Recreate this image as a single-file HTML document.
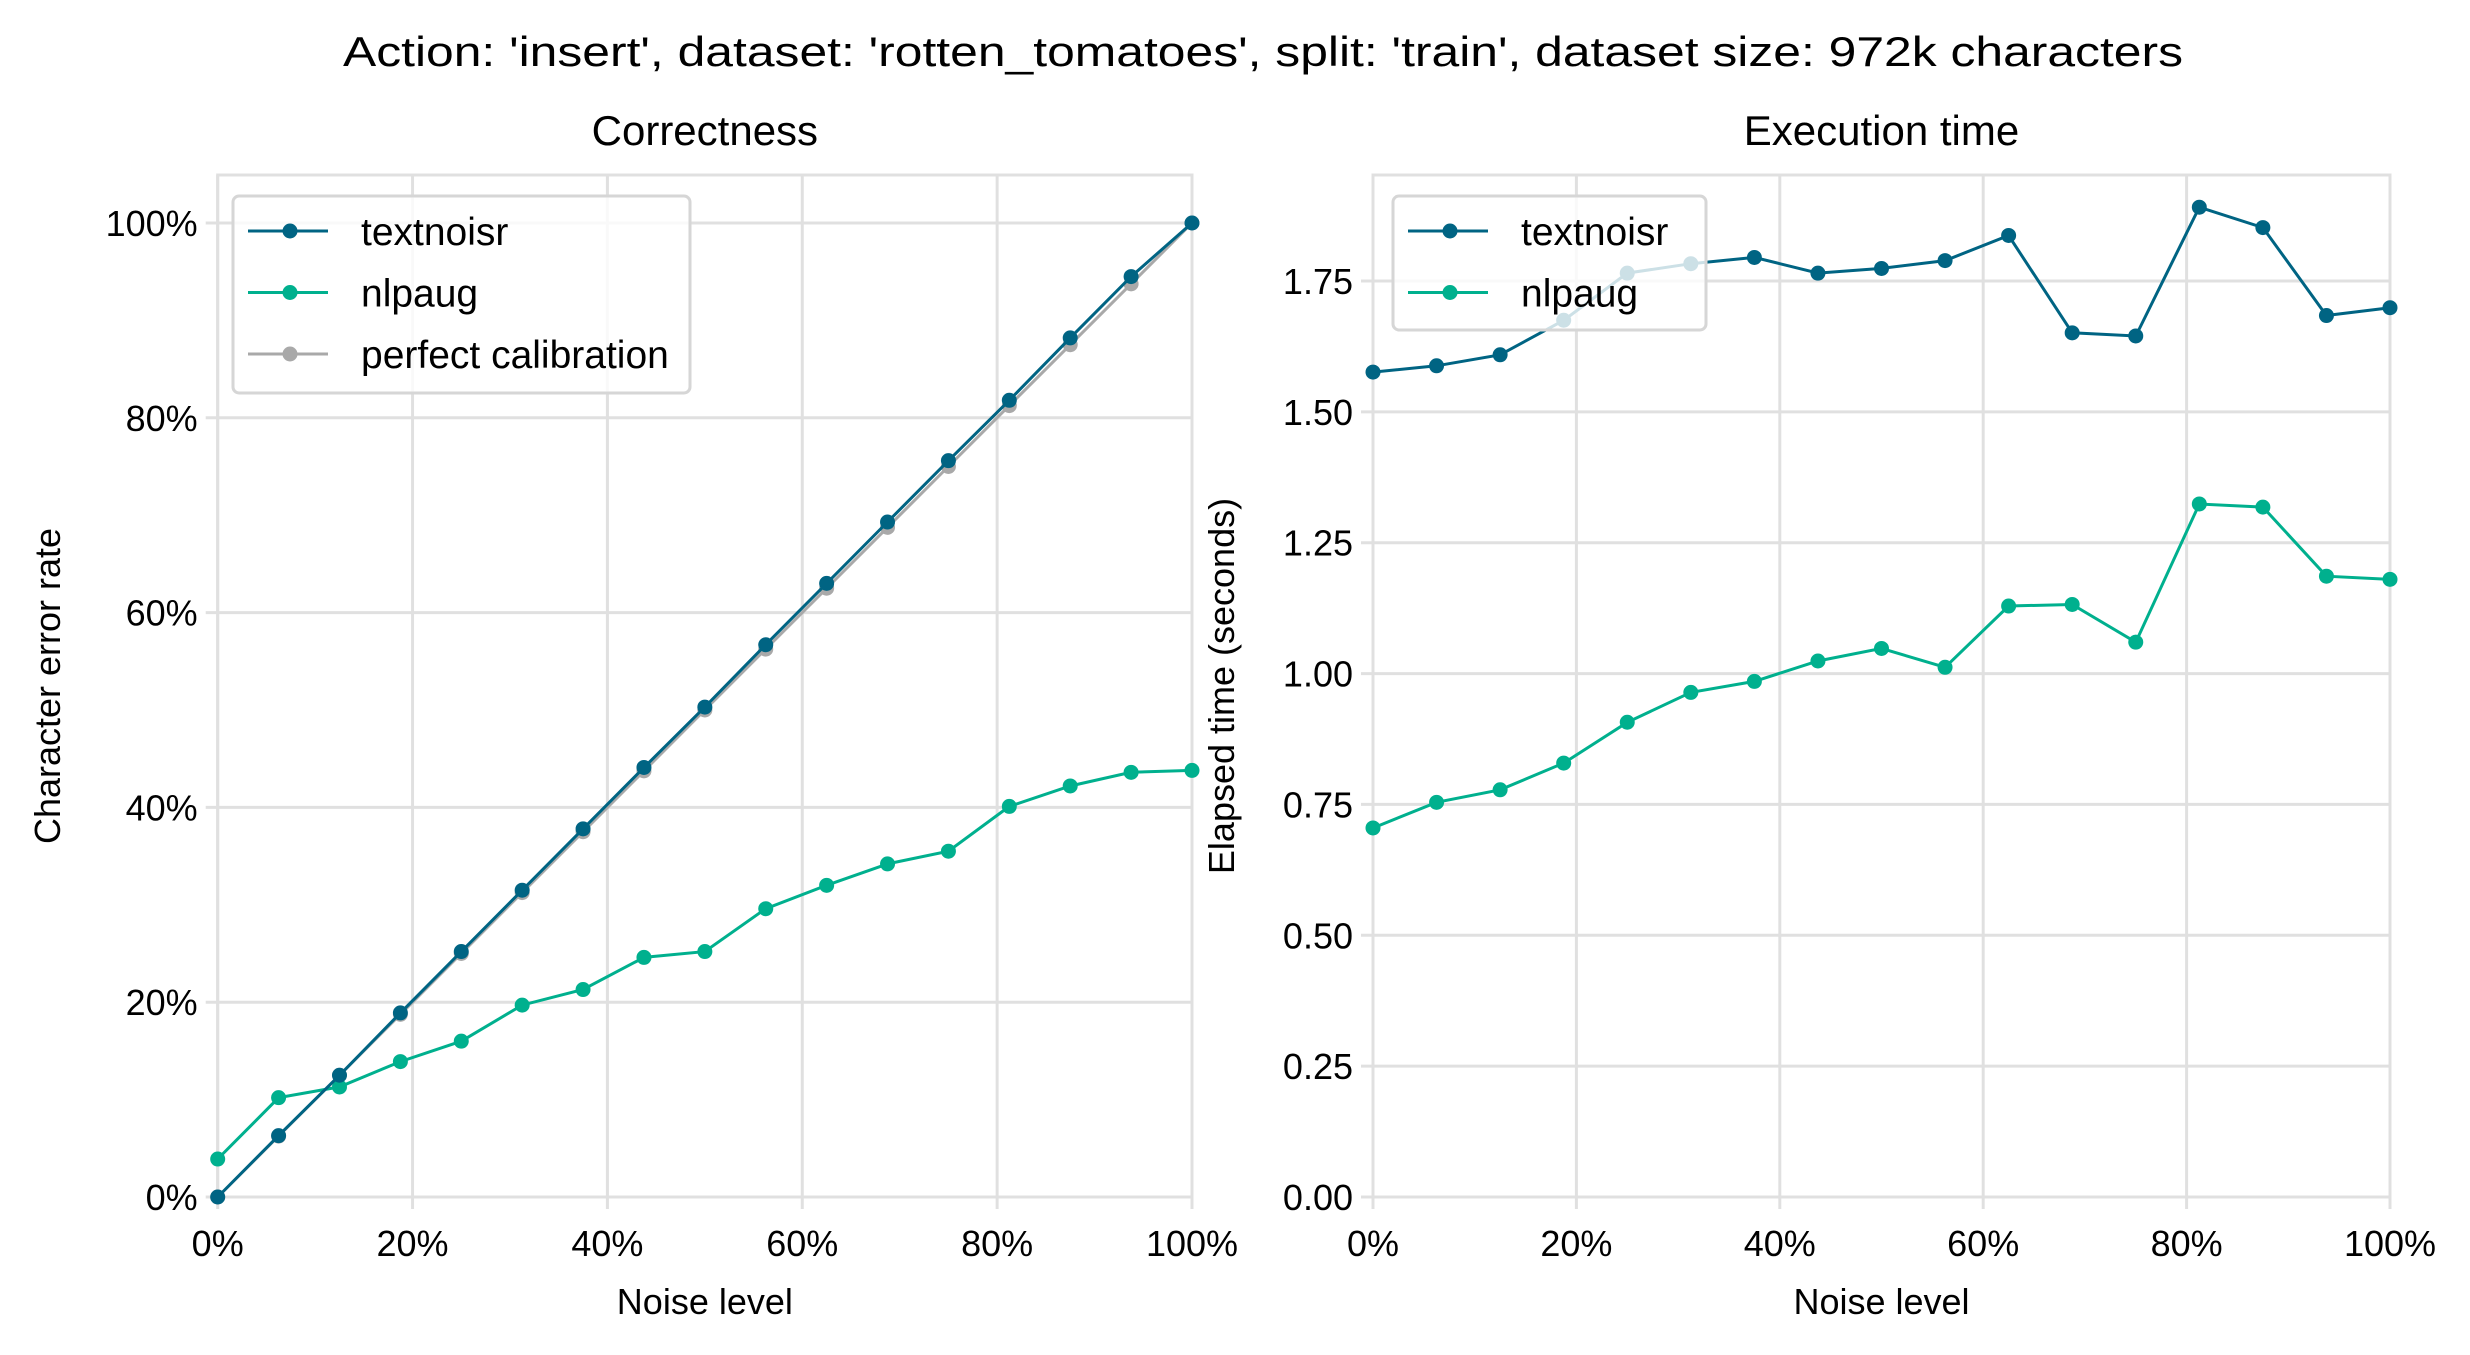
<!DOCTYPE html>
<html><head><meta charset="utf-8"><style>
html,body{margin:0;padding:0;background:#fff;}
svg{display:block;font-family:"Liberation Sans",sans-serif;}
</style></head><body>
<svg id="chart" width="2470" height="1355" viewBox="0 0 2470 1355" xmlns="http://www.w3.org/2000/svg">
<rect width="2470" height="1355" fill="#fff"/>
<text x="1263" y="66" font-size="42" text-anchor="middle" textLength="1840" lengthAdjust="spacingAndGlyphs">Action: 'insert', dataset: 'rotten_tomatoes', split: 'train', dataset size: 972k characters</text>
<g id="left"></g>
<g id="right"></g>
</svg>
<script>
const noiseLevels = [0,6.25,12.5,18.75,25,31.25,37.5,43.75,50,56.25,62.5,68.75,75,81.25,87.5,93.75,100];
const cerTextnoisr = [0,6.3,12.5,18.9,25.2,31.5,37.8,44.1,50.3,56.7,63.0,69.3,75.6,81.8,88.2,94.5,100];
const cerNlpaug = [3.9,10.2,11.3,13.9,16.0,19.7,21.3,24.6,25.2,29.6,32.0,34.2,35.5,40.1,42.2,43.6,43.8];
const cerPerfect = [0,6.25,12.5,18.75,25,31.25,37.5,43.75,50,56.25,62.5,68.75,75,81.25,87.5,93.75,100];
const timeTextnoisr = [1.576,1.588,1.609,1.675,1.765,1.783,1.795,1.765,1.774,1.789,1.837,1.651,1.645,1.891,1.852,1.684,1.699];
const timeNlpaug = [0.705,0.754,0.778,0.829,0.907,0.964,0.985,1.024,1.048,1.012,1.129,1.132,1.060,1.324,1.318,1.186,1.180];
const xTicks = [0,20,40,60,80,100];
const cerTicks = [0,20,40,60,80,100];
const timeTicks = [0,0.25,0.5,0.75,1.0,1.25,1.5,1.75];

const NS="http://www.w3.org/2000/svg";
const C1="#006483", C2="#00b08e", C3="#a9a9a9", GRID="#e0e0e0";
function mk(parent,tag,attrs,text){const e=document.createElementNS(NS,tag);for(const k in attrs)e.setAttribute(k,attrs[k]);if(text!==undefined)e.textContent=text;parent.appendChild(e);return e;}

function panel(g,o){
  const sx=v=>o.x0+(v-o.xmin)/(o.xmax-o.xmin)*(o.x1-o.x0);
  const sy=v=>o.y0-(v-o.ymin)/(o.ymax-o.ymin)*(o.y0-o.y1);
  const yTop=o.y1;
  // grid
  o.xt.forEach(t=>{const l=mk(g,'line',{x1:sx(t),x2:sx(t),y1:o.top,y2:o.y0+12,stroke:GRID,'stroke-width':3});
    
    
    const tx=mk(g,'text',{x:sx(t),y:1256,'font-size':36,'text-anchor':'middle'},t+'%');
    
    });
  o.yt.forEach(t=>{const l=mk(g,'line',{x1:o.x0-12,x2:o.x1,y1:sy(t),y2:sy(t),stroke:GRID,'stroke-width':3});
    
    
    const tx=mk(g,'text',{x:o.x0-20,y:sy(t)+13,'font-size':36,'text-anchor':'end'},o.fmt(t));
    
    });
  const fr=mk(g,'rect',{x:o.x0,y:o.top,width:o.x1-o.x0,height:o.y0-o.top,fill:'none',stroke:GRID,'stroke-width':3});
  
  
  // series
  o.series.forEach(s=>{
    const pts=s.y.map((v,i)=>sx(noiseLevels[i]).toFixed(1)+','+sy(v).toFixed(1)).join(' ');
    const pl=mk(g,'polyline',{points:pts,fill:'none',stroke:s.c,'stroke-width':3});
    
    
    s.y.forEach((v,i)=>{const c=mk(g,'circle',{cx:sx(noiseLevels[i]),cy:sy(v),r:7.5,fill:s.c});
      
      });
  });
  // title & labels
  const t=mk(g,'text',{x:(o.x0+o.x1)/2,y:145,'font-size':42,'text-anchor':'middle'},o.title);
  
  
  const xl=mk(g,'text',{x:(o.x0+o.x1)/2,y:1314,'font-size':36,'text-anchor':'middle'},'Noise level');
  
  
  const yl=mk(g,'text',{x:0,y:0,'font-size':36,'text-anchor':'middle',transform:`translate(${o.ylx},${(o.top+o.y0)/2}) rotate(-90)`},o.ylab);
  
  
  // legend
  const L=o.leg;
  const lg=mk(g,'g',{});
  
  
  mk(lg,'rect',{x:L.x,y:L.y,width:L.w,height:L.h,rx:6,fill:'#fff','fill-opacity':0.8,stroke:'#d6d6d6','stroke-width':3});
  o.series.forEach((s,i)=>{
    if(!s.label)return;
    const cy=L.y+35+i*61.5;
    const e=mk(lg,'g',{});
    
    
    mk(e,'line',{x1:L.x+15,x2:L.x+95,y1:cy,y2:cy,stroke:s.c,'stroke-width':3});
    mk(e,'circle',{cx:L.x+57,cy:cy,r:7.5,fill:s.c});
    mk(e,'text',{x:L.x+128,y:cy+14,'font-size':39},s.label);
  });
}

panel(document.getElementById('left'),{x0:217.7,x1:1192,y0:1197,y1:223,top:175,xmin:0,xmax:100,ymin:0,ymax:100,
  xt:xTicks,yt:cerTicks,fmt:t=>t+'%',title:'Correctness',ylab:'Character error rate',ylx:60,
  leg:{x:233,y:196,w:457,h:197},
  series:[{name:'perfect-calibration',y:cerPerfect,c:C3,label:null},
          {name:'nlpaug',y:cerNlpaug,c:C2,label:null},
          {name:'textnoisr',y:cerTextnoisr,c:C1,label:null}]});
// legend order fix for left panel: draw entries manually ordered
(function(){
  const g=document.getElementById('left');
  const lg=g.lastChild;
  const items=[['textnoisr',C1],['nlpaug',C2],['perfect calibration',C3]];
  items.forEach((it,i)=>{const cy=196+35+i*61.5;
    const e=mk(lg,'g',{});
    
    
    mk(e,'line',{x1:248,x2:328,y1:cy,y2:cy,stroke:it[1],'stroke-width':3});
    mk(e,'circle',{cx:290,cy:cy,r:7.5,fill:it[1]});
    mk(e,'text',{x:361,y:cy+14,'font-size':39},it[0]);});
})();
panel(document.getElementById('right'),{x0:1373,x1:2390,y0:1197,y1:281,top:175,xmin:0,xmax:100,ymin:0,ymax:1.75,
  xt:xTicks,yt:timeTicks,fmt:t=>t.toFixed(2),title:'Execution time',ylab:'Elapsed time (seconds)',ylx:1234,
  leg:{x:1393,y:196,w:313,h:134},
  series:[{name:'textnoisr',y:timeTextnoisr,c:C1,label:'textnoisr'},
          {name:'nlpaug',y:timeNlpaug,c:C2,label:'nlpaug'}]});
</script>
</body></html>
